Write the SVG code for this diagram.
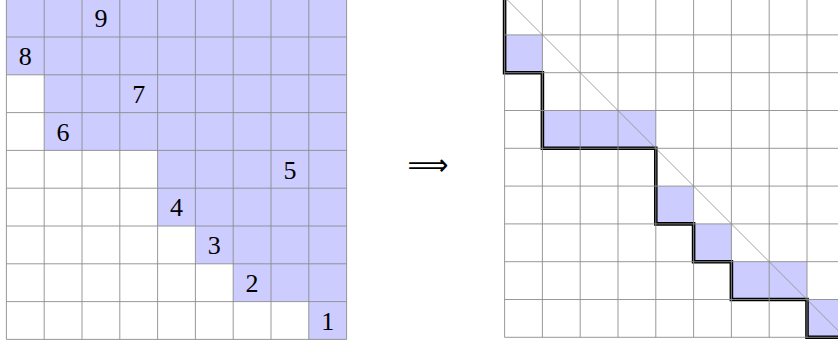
<svg xmlns="http://www.w3.org/2000/svg" width="838" height="345" viewBox="0 0 838 345">
<style>
.fill{fill:#ccccff;stroke:none}
.grid{fill:none;stroke:#8c8c8c;stroke-width:0.9}
.num{font-family:"Liberation Serif","DejaVu Serif",serif;font-size:26px;text-anchor:middle;fill:#000}
.path{fill:none;stroke:#000;stroke-width:3.6;stroke-linejoin:miter;stroke-linecap:square}
.diag{fill:none;stroke:#888;stroke-width:0.8}
</style>
<rect width="838" height="345" fill="#fff"/>
<g id="left-grid">
<polygon class="fill" points="6.4,-0.8 346.6,-0.8 346.6,339.4 308.8,339.4 308.8,301.6 233.2,301.6 233.2,263.8 195.4,263.8 195.4,226 157.6,226 157.6,150.4 44.2,150.4 44.2,74.8 6.4,74.8"/>
<path class="grid" d="M6.4,-0.8V339.4M44.2,-0.8V339.4M82,-0.8V339.4M119.8,-0.8V339.4M157.6,-0.8V339.4M195.4,-0.8V339.4M233.2,-0.8V339.4M271,-0.8V339.4M308.8,-0.8V339.4M346.6,-0.8V339.4M6.4,37H346.6M6.4,74.8H346.6M6.4,112.6H346.6M6.4,150.4H346.6M6.4,188.2H346.6M6.4,226H346.6M6.4,263.8H346.6M6.4,301.6H346.6M6.4,339.4H346.6"/>
<text class="num" x="100.9" y="27.4">9</text>
<text class="num" x="25.3" y="65.2">8</text>
<text class="num" x="138.7" y="103">7</text>
<text class="num" x="63.1" y="140.8">6</text>
<text class="num" x="289.9" y="178.6">5</text>
<text class="num" x="176.5" y="216.4">4</text>
<text class="num" x="214.3" y="254.2">3</text>
<text class="num" x="252.1" y="292">2</text>
<text class="num" x="327.7" y="329.8">1</text>
</g>
<g id="arrow">
<text x="407.5" y="175" font-family="DejaVu Sans, sans-serif" font-size="30" textLength="41" lengthAdjust="spacingAndGlyphs" fill="#000">⟹</text>
</g>
<g id="right-grid">
<rect class="fill" x="504.6" y="34.9" width="37.8" height="37.8"/>
<rect class="fill" x="542.4" y="110.5" width="113.4" height="37.8"/>
<rect class="fill" x="655.8" y="186.1" width="37.8" height="37.8"/>
<rect class="fill" x="693.6" y="223.9" width="37.8" height="37.8"/>
<rect class="fill" x="731.4" y="261.7" width="75.6" height="37.8"/>
<rect class="fill" x="807" y="299.5" width="37.8" height="37.8"/>
<path class="path" d="M504.6,-2.9V72.7H542.4V148.3H655.8V223.9H693.6V261.7H731.4V299.5H807V337.3H844.8"/>
<path class="grid" d="M504.6,-2.9V337.3M542.4,-2.9V337.3M580.2,-2.9V337.3M618,-2.9V337.3M655.8,-2.9V337.3M693.6,-2.9V337.3M731.4,-2.9V337.3M769.2,-2.9V337.3M807,-2.9V337.3M844.8,-2.9V337.3M504.6,34.9H844.8M504.6,72.7H844.8M504.6,110.5H844.8M504.6,148.3H844.8M504.6,186.1H844.8M504.6,223.9H844.8M504.6,261.7H844.8M504.6,299.5H844.8M504.6,337.3H844.8"/>
<path class="diag" d="M504.6,-2.9L844.8,337.3"/>
</g>
</svg>
